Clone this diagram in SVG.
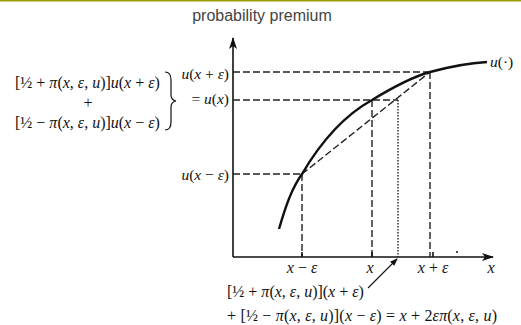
<svg xmlns="http://www.w3.org/2000/svg" width="521" height="325" viewBox="0 0 521 325">
<defs>
<marker id="ah" viewBox="0 0 12 8" refX="11" refY="4" markerWidth="12" markerHeight="8" markerUnits="userSpaceOnUse" orient="auto">
<path d="M0,0 L12,4 L0,8 L3,4 Z" fill="#111"/>
</marker>
<marker id="ahs" viewBox="0 0 8 6" refX="7" refY="3" markerWidth="8" markerHeight="6" markerUnits="userSpaceOnUse" orient="auto">
<path d="M0,0 L8,3 L0,6 Z" fill="#111"/>
</marker>
</defs>
<style>
.m{font-family:"Liberation Serif","DejaVu Serif",serif;font-size:16px;fill:#111}
.s{font-size:15.5px}
.i{font-style:italic}
.axis{stroke:#111;stroke-width:1.6;fill:none}
.dash{stroke:#222;stroke-width:1.4;stroke-dasharray:7 3;fill:none}
.dot{stroke:#222;stroke-width:1.4;stroke-dasharray:1.5 1.5;fill:none}
.curve{stroke:#111;stroke-width:2.4;fill:none}
</style>
<rect x="0" y="0" width="521" height="325" fill="#fff"/>
<rect x="0" y="0" width="521" height="1.5" fill="#9c9c00"/>
<text x="262" y="21" text-anchor="middle" font-family="Liberation Sans, Arial, sans-serif" font-size="16" fill="#444">probability premium</text>

<g id="connectors">
<line class="axis" x1="233" y1="257" x2="233" y2="38" marker-end="url(#ah)"/>
<line class="axis" x1="233" y1="257" x2="493" y2="257" marker-end="url(#ah)"/>
<line class="dash" x1="233" y1="72" x2="430" y2="72"/>
<line class="dash" x1="233" y1="100" x2="398" y2="100"/>
<line class="dash" x1="233" y1="174" x2="302" y2="174"/>
<line class="dash" x1="302" y1="174" x2="302" y2="257"/>
<line class="dash" x1="372" y1="100" x2="372" y2="257"/>
<line class="dot" x1="398" y1="100" x2="398" y2="257"/>
<line class="dash" x1="430" y1="72" x2="430" y2="257"/>
<line class="dash" x1="302" y1="174" x2="430" y2="72"/>
<line stroke="#111" stroke-width="1.1" x1="368" y1="288" x2="397" y2="259" marker-end="url(#ahs)"/>
<line class="axis" x1="302" y1="252" x2="302" y2="257"/>
<line class="axis" x1="372" y1="252" x2="372" y2="257"/>
<line class="axis" x1="433" y1="252" x2="433" y2="257"/>
<circle cx="457" cy="252" r="1" fill="#111"/>
</g>

<g id="curve">
<path class="curve" d="M279,229 C286,205 292,188 302,174 C322,140 345,115 372,100 C395,86 412,77 430,72 C452,66 470,63 487,62"/>
</g>

<g id="label-u">
<text class="m s" x="490" y="67"><tspan class="i">u</tspan>(·)</text>
</g>

<g id="left-expression">
<text class="m" x="15" y="88">[½ + <tspan class="i">π</tspan>(<tspan class="i">x</tspan>, <tspan class="i">ε</tspan>, <tspan class="i">u</tspan>)]<tspan class="i">u</tspan>(<tspan class="i">x</tspan> + <tspan class="i">ε</tspan>)</text>
<text class="m" x="88" y="108" text-anchor="middle">+</text>
<text class="m" x="15" y="128">[½ − <tspan class="i">π</tspan>(<tspan class="i">x</tspan>, <tspan class="i">ε</tspan>, <tspan class="i">u</tspan>)]<tspan class="i">u</tspan>(<tspan class="i">x</tspan> − <tspan class="i">ε</tspan>)</text>
<path d="M165,72 Q171,72 171,80 L171,95 Q171,100 176,101 Q171,102 171,107 L171,122 Q171,130 165,130" stroke="#111" stroke-width="1.2" fill="none"/>
</g>

<g id="y-labels">
<text class="m s" x="229" y="79" text-anchor="end"><tspan class="i">u</tspan>(<tspan class="i">x</tspan> + <tspan class="i">ε</tspan>)</text>
<text class="m s" x="229" y="104" text-anchor="end">= <tspan class="i">u</tspan>(<tspan class="i">x</tspan>)</text>
<text class="m s" x="229" y="180" text-anchor="end"><tspan class="i">u</tspan>(<tspan class="i">x</tspan> − <tspan class="i">ε</tspan>)</text>
</g>

<g id="x-labels">
<text class="m" x="302" y="273" text-anchor="middle"><tspan class="i">x</tspan> − <tspan class="i">ε</tspan></text>
<text class="m" x="370" y="273" text-anchor="middle"><tspan class="i">x</tspan></text>
<text class="m" x="433" y="273" text-anchor="middle"><tspan class="i">x</tspan> + <tspan class="i">ε</tspan></text>
<text class="m" x="491" y="273" text-anchor="middle"><tspan class="i">x</tspan></text>
</g>

<g id="bottom-expression">
<text class="m" x="227" y="297">[½ + <tspan class="i">π</tspan>(<tspan class="i">x</tspan>, <tspan class="i">ε</tspan>, <tspan class="i">u</tspan>)](<tspan class="i">x</tspan> + <tspan class="i">ε</tspan>)</text>
<text class="m" x="227" y="321" textLength="270" lengthAdjust="spacing">+ [½ − <tspan class="i">π</tspan>(<tspan class="i">x</tspan>, <tspan class="i">ε</tspan>, <tspan class="i">u</tspan>)](<tspan class="i">x</tspan> − <tspan class="i">ε</tspan>) = <tspan class="i">x</tspan> + 2<tspan class="i">επ</tspan>(<tspan class="i">x</tspan>, <tspan class="i">ε</tspan>, <tspan class="i">u</tspan>)</text>
</g>
</svg>
